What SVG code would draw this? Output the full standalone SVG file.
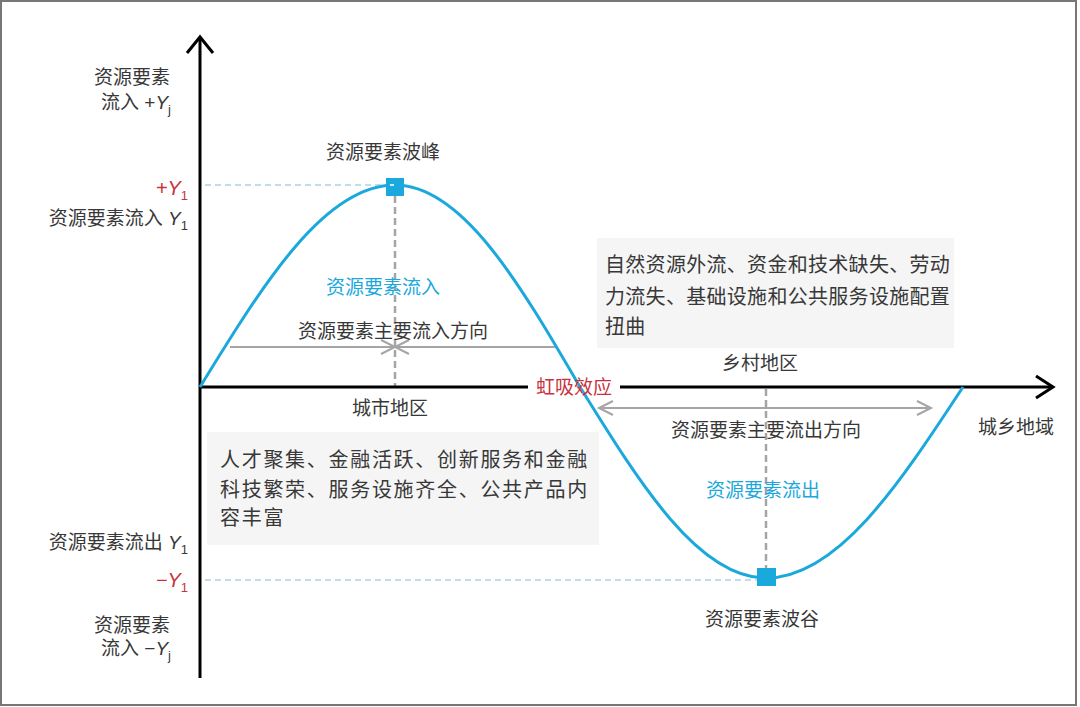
<svg xmlns="http://www.w3.org/2000/svg" width="1080" height="707" viewBox="0 0 1080 707">
<defs>
<style>
text{font-family:"Liberation Sans","Noto Sans CJK SC",sans-serif;fill:#383838}
.t19{font-size:19px}
.t20{font-size:20px}
.red{fill:#c8323c}
.blue{fill:#1ba8dd}
.it{font-style:italic}
.axis{stroke:#000;stroke-width:3;fill:none}
.gray{stroke:#a5a5a5;stroke-width:2;fill:none}
.vdash{stroke:#a5a5a5;stroke-width:2.5;stroke-dasharray:7 4;fill:none}
.hdash{stroke:#a9d3ec;stroke-width:1.5;stroke-dasharray:6 4;fill:none}
.box{fill:#f5f5f5}
</style>
</defs>
<rect x="1" y="1" width="1075" height="704" fill="#fff" stroke="#777" stroke-width="2"/>

<g id="boxes">
<rect class="box" x="207" y="432" width="392" height="113"/>
<rect class="box" x="597" y="238" width="357" height="110"/>
</g>

<g id="connectors">
<line class="hdash" x1="205" y1="185" x2="386" y2="185"/>
<line class="hdash" x1="205" y1="580" x2="758" y2="580"/>
<line class="vdash" x1="395" y1="196" x2="395" y2="387"/>
<line class="vdash" x1="766" y1="389" x2="766" y2="568"/>
<line class="gray" x1="230" y1="347" x2="393" y2="347"/>
<line class="gray" x1="397" y1="347" x2="555" y2="347"/>
<polyline class="gray" points="381,340 395,347 381,354"/>
<polyline class="gray" points="409,340 395,347 409,354"/>
<line class="gray" x1="599" y1="408" x2="931" y2="408"/>
<polyline class="gray" points="613,401 599,408 613,415"/>
<polyline class="gray" points="917,401 931,408 917,415"/>
<line class="axis" x1="200" y1="38" x2="200" y2="678"/>
<polyline class="axis" points="187,53 200,37 213,53"/>
<line class="axis" x1="200" y1="387" x2="528" y2="387"/>
<line class="axis" x1="620" y1="387" x2="1052" y2="387"/>
<polyline class="axis" points="1036,376 1053,387 1036,398"/>
<path d="M200,387 C263.6,283.5 324.4,185 395,185 C462,185 519.7,283.5 580,387 C640.6,484.8 698.7,578 766,578 C837.3,578 898.8,484.8 963,387" fill="none" stroke="#1ba8dd" stroke-width="3"/>
</g>

<g id="peak">
<rect x="386" y="178" width="18" height="18" fill="#1ba8dd"/>
<line x1="390" y1="185" x2="394" y2="185" stroke="#fff" stroke-width="1.5"/>
<text class="t19" x="383" y="159" text-anchor="middle">资源要素波峰</text>
</g>
<g id="trough">
<rect x="757" y="568" width="19" height="18" fill="#1ba8dd"/>
<text class="t19" x="762" y="626" text-anchor="middle">资源要素波谷</text>
</g>

<g id="y-labels">
<text class="t19" x="170" y="84" text-anchor="end">资源要素</text>
<text class="t19" x="171" y="109" text-anchor="end">流入 +<tspan class="it">Y</tspan><tspan font-size="13" dy="5">j</tspan></text>
<text class="t20 red" x="188" y="195" text-anchor="end"><tspan class="it">+Y</tspan><tspan font-size="13" dy="5" class="red">1</tspan></text>
<text class="t19" x="188" y="225" text-anchor="end">资源要素流入 <tspan class="it">Y</tspan><tspan font-size="13" dy="5">1</tspan></text>
<text class="t19" x="188" y="549" text-anchor="end">资源要素流出 <tspan class="it">Y</tspan><tspan font-size="13" dy="5">1</tspan></text>
<text class="t20 red" x="188" y="587" text-anchor="end"><tspan class="it">−Y</tspan><tspan font-size="13" dy="5" class="red">1</tspan></text>
<text class="t19" x="170" y="632" text-anchor="end">资源要素</text>
<text class="t19" x="171" y="655" text-anchor="end">流入 −<tspan class="it">Y</tspan><tspan font-size="13" dy="5">j</tspan></text>
</g>

<g id="labels">
<text class="t19 blue" x="383" y="294" text-anchor="middle">资源要素流入</text>
<text class="t19 blue" x="763" y="497" text-anchor="middle">资源要素流出</text>
<text class="t19" x="393" y="338" text-anchor="middle">资源要素主要流入方向</text>
<text class="t19" x="766" y="437" text-anchor="middle">资源要素主要流出方向</text>
<text class="t19" x="390" y="415" text-anchor="middle">城市地区</text>
<text class="t19" x="760" y="370" text-anchor="middle">乡村地区</text>
<text class="t19 red" x="574" y="394" text-anchor="middle">虹吸效应</text>
<text class="t19" x="1016" y="434" text-anchor="middle">城乡地域</text>
</g>

<g id="left-box-text">
<text class="t20" x="220" y="467" letter-spacing="1.7">人才聚集、金融活跃、创新服务和金融</text>
<text class="t20" x="220" y="497" letter-spacing="1.7">科技繁荣、服务设施齐全、公共产品内</text>
<text class="t20" x="220" y="525" letter-spacing="1.7">容丰富</text>
</g>
<g id="right-box-text">
<text class="t20" x="605" y="272" letter-spacing="0.3">自然资源外流、资金和技术缺失、劳动</text>
<text class="t20" x="605" y="304" letter-spacing="0.3">力流失、基础设施和公共服务设施配置</text>
<text class="t20" x="605" y="334" letter-spacing="0.3">扭曲</text>
</g>
</svg>
